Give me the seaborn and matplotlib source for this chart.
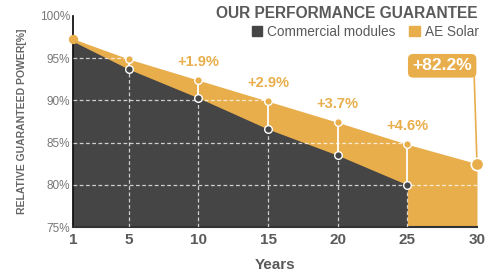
import matplotlib.pyplot as plt
import matplotlib.patches as mpatches
import numpy as np
import pandas as pd
import seaborn as sns

years = [1, 5, 10, 15, 20, 25, 30]
ae_solar = [97.3, 94.9, 92.4, 89.9, 87.4, 84.8, 82.5]
commercial_years = [1, 5, 10, 15, 20, 25]
commercial = [97.0, 93.7, 90.3, 86.6, 83.5, 80.0]
gain_years = [10, 15, 20, 25]
gain_labels = ["+1.9%", "+2.9%", "+3.7%", "+4.6%"]
final_label = "+82.2%"
y_ticks = [75, 80, 85, 90, 95, 100]

ORANGE = "#E8AE4B"
DARK = "#454545"
TXT = "#5a5a5a"

sns.set_style("white")
plt.rcParams["font.family"] = ["Liberation Sans", "DejaVu Sans"]

df_ae = pd.DataFrame({"year": years, "power": ae_solar})
df_cm = pd.DataFrame({"year": commercial_years, "power": commercial})

fig = plt.figure(figsize=(4.91, 2.75), dpi=100)
ax = fig.add_axes([73 / 491, 48 / 275, 404 / 491, 211 / 275])

ax.fill_between(df_ae["year"], df_ae["power"], 75, color=ORANGE, lw=0, zorder=1)
ax.fill_between(df_cm["year"], df_cm["power"], 75, color=DARK, lw=0, zorder=2)

# grid (white dashes, only visible over the filled areas)
for y in y_ticks[1:-1]:
    ax.axhline(y, color="white", alpha=0.75, lw=0.9, ls=(0, (3, 2)), zorder=3)
mid = df_cm[(df_cm["year"] > 1)]
ax.vlines(mid["year"], 75, mid["power"], color="white", alpha=0.75, lw=0.9, ls=(0, (3, 2)), zorder=3)
ae_mid = df_ae[df_ae["year"].isin(mid["year"])]
ax.vlines(mid["year"], mid["power"].values, ae_mid["power"].values, color="white", lw=1.3, zorder=3)

# dots
sns.scatterplot(data=ae_mid, x="year", y="power", color=ORANGE, s=30, edgecolor="white",
                linewidth=1, zorder=5, ax=ax, clip_on=False)
sns.scatterplot(data=mid, x="year", y="power", color=DARK, s=30, edgecolor="white",
                linewidth=1, zorder=5, ax=ax, clip_on=False)
sns.scatterplot(data=df_ae.iloc[[0]], x="year", y="power", color=ORANGE, s=45,
                linewidth=0, zorder=6, ax=ax, clip_on=False)
sns.scatterplot(data=df_ae.iloc[[-1]], x="year", y="power", color=ORANGE, s=80, edgecolor="white",
                linewidth=1.2, zorder=6, ax=ax, clip_on=False)

for yr, lab in zip(gain_years, gain_labels):
    v = df_ae.loc[df_ae["year"] == yr, "power"].iloc[0]
    ax.annotate(lab, (yr, v), xytext=(0, 8), textcoords="offset points", ha="center",
                va="bottom", color=ORANGE, fontsize=10.5, fontweight="bold")

ax.plot([29.8, 30], [92.8, ae_solar[-1]], color=ORANGE, lw=1.2, zorder=5, clip_on=False)
ax.text(27.5, 94.1, final_label, ha="center", va="center", color="white", fontsize=12.5,
        fontweight="bold", zorder=7,
        bbox=dict(boxstyle="round,pad=0.25,rounding_size=0.3", fc=ORANGE, ec="none"))

ax.set_xlim(1, 30)
ax.set_ylim(75, 100)
ax.set_xticks(years)
ax.set_xticklabels([str(y) for y in years], fontweight="bold", fontsize=11, color=TXT)
ax.set_yticks(y_ticks)
ax.set_yticklabels([f"{y}%" for y in y_ticks], fontsize=8.5, color="#777777")
ax.tick_params(axis="both", length=0, pad=2)
ax.tick_params(axis="x", pad=4)
ax.set_xlabel("Years", fontweight="bold", fontsize=11, color=TXT, labelpad=8)
ax.set_ylabel("RELATIVE GUARANTEED POWER[%]", fontweight="bold", fontsize=7.5, color="#666666",
              labelpad=9)
sns.despine(ax=ax)
ax.spines["left"].set_color("black")
ax.spines["left"].set_linewidth(1.2)
ax.spines["bottom"].set_color("#333333")
ax.spines["bottom"].set_linewidth(1.5)
ax.set_facecolor("white")

fig.text(477 / 491, 1 - 13 / 275, "OUR PERFORMANCE GUARANTEE", ha="right", va="center",
         fontsize=11.2, fontweight="bold", color=TXT)
handles = [mpatches.Patch(color=DARK, label="Commercial modules"),
           mpatches.Patch(color=ORANGE, label="AE Solar")]
fig.legend(handles=handles, ncol=2, loc="center right", bbox_to_anchor=(479 / 491, 1 - 32 / 275),
           frameon=False, fontsize=9.8, labelcolor=TXT, handlelength=0.75, handleheight=0.75,
           handletextpad=0.4, columnspacing=1.0, borderpad=0, borderaxespad=0)

fig.savefig("out.png", dpi=100)
